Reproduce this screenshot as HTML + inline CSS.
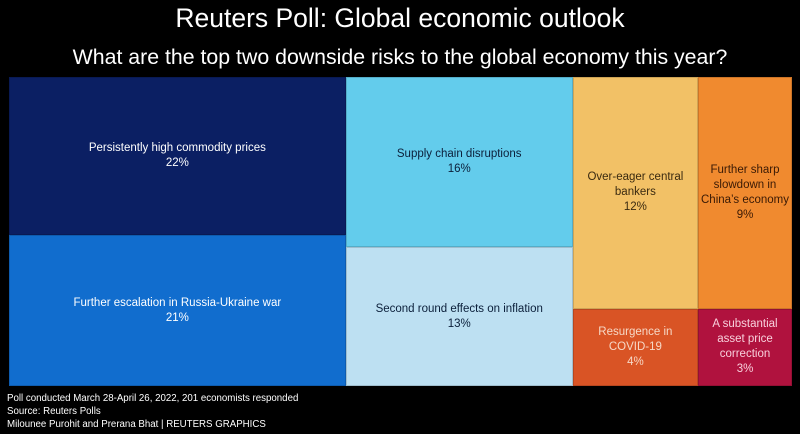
<!DOCTYPE html>
<html><head><meta charset="utf-8">
<style>
body{margin:0;background:#000;width:800px;height:434px;overflow:hidden;font-family:"Liberation Sans",sans-serif;color:#fff}
.t{position:absolute;left:0;width:800px;text-align:center}
.cell{position:absolute;box-sizing:border-box;display:flex;align-items:center;justify-content:center;text-align:center;font-size:11.5px;line-height:15px;border:1px solid rgba(0,0,0,0.15)}
.foot{position:absolute;left:7px;font-size:9.7px;line-height:13px;color:#fff}
</style></head><body>
<div class="t" style="top:3px;font-size:26.5px">Reuters Poll: Global economic outlook</div>
<div class="t" style="top:45px;font-size:21.3px">What are the top two downside risks to the global economy this year?</div>
<div id="tm"></div>
<div class="foot" style="top:392px">Poll conducted March 28-April 26, 2022, 201 economists responded<br>Source: Reuters Polls<br>Milounee Purohit and Prerana Bhat | REUTERS GRAPHICS</div>
<script>
const groups=[0,0,1,1,2,2,3,3];
const labels=["Persistently high commodity prices","Further escalation in Russia-Ukraine war","Supply chain disruptions","Second round effects on inflation","Over-eager central<br>bankers","Resurgence in<br>COVID-19","Further sharp<br>slowdown in<br>China’s economy","A substantial<br>asset price<br>correction"];
const values=[22,21,16,13,12,4,9,3];
const colors=["#0b1f63","#116dce","#63ccec","#bde0f2","#f2c166","#d95425","#f08a2f","#b0123e"];
const textColors=["#fff","#fff","#0b1f3a","#0b1f3a","#3a2a10","#f6d8c6","#3a1a05","#f8d0dc"];
const X0=9,Y0=77,W=783,H=309;
const tm=document.getElementById('tm');
const total=values.reduce((a,b)=>a+b,0);
const gs={};groups.forEach((g,i)=>gs[g]=(gs[g]||0)+values[i]);
let x=X0;
Object.keys(gs).forEach(g=>{
  const gw=gs[g]/total*W;let y=Y0;
  values.forEach((v,i)=>{if(groups[i]!=g)return;
    const h=v/gs[g]*H;
    const d=document.createElement('div');
    
    
    d.className='cell';
    d.style.cssText=`left:${x}px;top:${y}px;width:${gw}px;height:${h}px;background:${colors[i]};color:${textColors[i]}`;
    d.innerHTML=`<div>${labels[i]}<br>${v}%</div>`;
    tm.appendChild(d);y+=h;});
  x+=gw;});
</script>
</body></html>
